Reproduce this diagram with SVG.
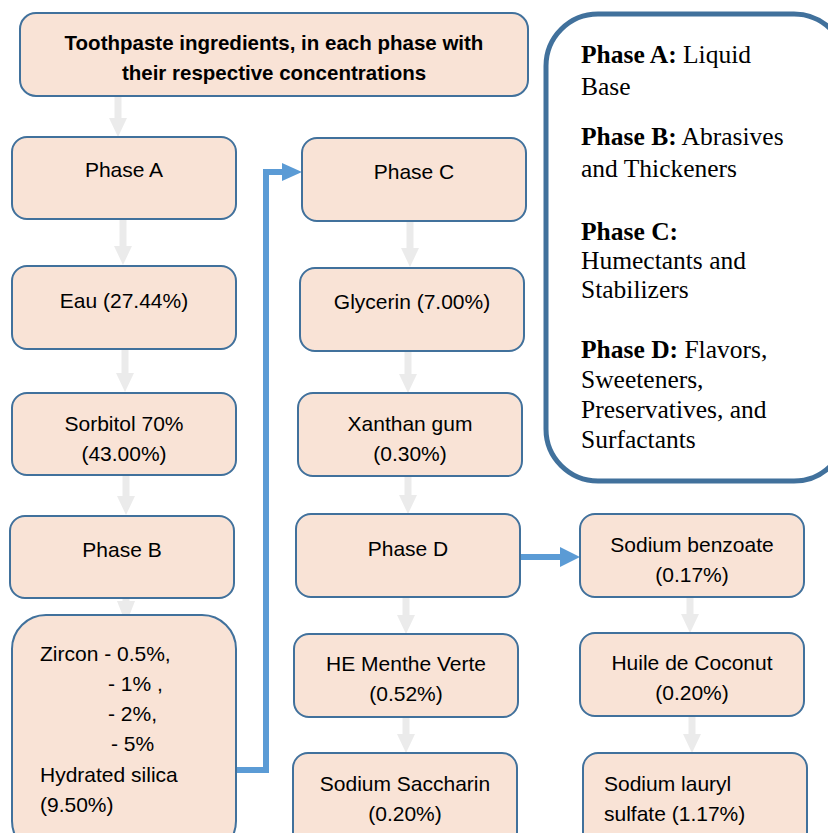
<svg xmlns="http://www.w3.org/2000/svg" width="828" height="833" viewBox="0 0 828 833">
<style>
.box{fill:#f9e3d6;stroke:#41719c;stroke-width:2}
.t{font-family:"Liberation Sans",Arial,sans-serif;font-size:21px;fill:#000}
.c{text-anchor:middle}
.title{font-family:"Liberation Sans",Arial,sans-serif;font-size:20.5px;font-weight:bold;text-anchor:middle}
.lg{font-family:"Liberation Serif","Times New Roman",serif;font-size:25.5px;fill:#000}
.g{stroke:#ebebeb;stroke-width:7;fill:none}
.gh{fill:#ebebeb}
.b{stroke:#5b9bd5;stroke-width:6;fill:none}
.bh{fill:#5b9bd5}
</style>
<rect width="828" height="833" fill="#fff"/>
<g id="connectors">
<path class="g" d="M118 96V120"/><path class="gh" d="M109 118H127L118 137Z"/>
<path class="g" d="M123 220V248"/><path class="gh" d="M114 246H132L123 265Z"/>
<path class="g" d="M125 349V375"/><path class="gh" d="M116 373H134L125 392Z"/>
<path class="g" d="M126 475V498"/><path class="gh" d="M117 496H135L126 515Z"/>
<path class="g" d="M126 584V603"/><path class="gh" d="M117 601H135L126 624Z"/>
<path class="g" d="M410 221V250"/><path class="gh" d="M401 248H419L410 267Z"/>
<path class="g" d="M408 351V376"/><path class="gh" d="M399 374H417L408 393Z"/>
<path class="g" d="M408 476V497"/><path class="gh" d="M399 495H417L408 514Z"/>
<path class="g" d="M406 597V617"/><path class="gh" d="M397 615H415L406 634Z"/>
<path class="g" d="M406 717V736"/><path class="gh" d="M397 734H415L406 753Z"/>
<path class="g" d="M690 597V616"/><path class="gh" d="M681 614H699L690 633Z"/>
<path class="g" d="M692 716V736"/><path class="gh" d="M683 734H701L692 753Z"/>
<path class="b" d="M236 770H266V172H284"/><path class="bh" d="M282 163L302 172L282 181Z"/>
<path class="b" d="M520 557H562"/><path class="bh" d="M560 547L580 557L560 567Z"/>
</g>
<g id="title"><rect class="box" x="20" y="13" width="508" height="83" rx="16"/>
<text class="title" x="274" y="50">Toothpaste ingredients, in each phase with</text>
<text class="title" x="274" y="80">their respective concentrations</text></g>
<g id="phaseA"><rect class="box" x="12" y="137" width="224" height="82" rx="15"/><text class="t c" x="124" y="177">Phase A</text></g>
<g id="eau"><rect class="box" x="12" y="266" width="224" height="83" rx="15"/><text class="t c" x="124" y="308">Eau (27.44%)</text></g>
<g id="sorbitol"><rect class="box" x="12" y="393" width="224" height="82" rx="15"/><text class="t c" x="124" y="431">Sorbitol 70%</text><text class="t c" x="124" y="461">(43.00%)</text></g>
<g id="phaseB"><rect class="box" x="10" y="516" width="224" height="82" rx="15"/><text class="t c" x="122" y="557">Phase B</text></g>
<g id="zircon"><rect class="box" x="12" y="615" width="224" height="240" rx="34"/>
<text class="t" x="40" y="661">Zircon - 0.5%,</text>
<text class="t" x="108" y="691">- 1% ,</text>
<text class="t" x="108" y="721">- 2%,</text>
<text class="t" x="111" y="751">- 5%</text>
<text class="t" x="40" y="782">Hydrated silica</text>
<text class="t" x="40" y="812">(9.50%)</text></g>
<g id="phaseC"><rect class="box" x="302" y="138" width="224" height="83" rx="15"/><text class="t c" x="414" y="179">Phase C</text></g>
<g id="glycerin"><rect class="box" x="300" y="268" width="224" height="83" rx="15"/><text class="t c" x="412" y="309">Glycerin (7.00%)</text></g>
<g id="xanthan"><rect class="box" x="298" y="393" width="224" height="83" rx="15"/><text class="t c" x="410" y="431">Xanthan gum</text><text class="t c" x="410" y="461">(0.30%)</text></g>
<g id="phaseD"><rect class="box" x="296" y="514" width="224" height="83" rx="15"/><text class="t c" x="408" y="556">Phase D</text></g>
<g id="menthe"><rect class="box" x="294" y="634" width="224" height="83" rx="15"/><text class="t c" x="406" y="671">HE Menthe Verte</text><text class="t c" x="406" y="701">(0.52%)</text></g>
<g id="saccharin"><rect class="box" x="293" y="753" width="224" height="100" rx="15"/><text class="t c" x="405" y="791">Sodium Saccharin</text><text class="t c" x="405" y="821">(0.20%)</text></g>
<g id="benzoate"><rect class="box" x="580" y="514" width="224" height="83" rx="15"/><text class="t c" x="692" y="552">Sodium benzoate</text><text class="t c" x="692" y="582">(0.17%)</text></g>
<g id="coconut"><rect class="box" x="580" y="633" width="224" height="83" rx="15"/><text class="t c" x="692" y="670">Huile de Coconut</text><text class="t c" x="692" y="700">(0.20%)</text></g>
<g id="lauryl"><rect class="box" x="583" y="753" width="224" height="100" rx="15"/><text class="t" x="604" y="791">Sodium lauryl</text><text class="t" x="604" y="821">sulfate (1.17%)</text></g>
<g id="legend"><rect x="546" y="14" width="300" height="467" rx="52" fill="#fff" stroke="#41719c" stroke-width="5"/>
<text class="lg" x="581" y="63"><tspan font-weight="bold">Phase A:</tspan> Liquid</text>
<text class="lg" x="581" y="95">Base</text>
<text class="lg" x="581" y="145"><tspan font-weight="bold">Phase B:</tspan> Abrasives</text>
<text class="lg" x="581" y="177">and Thickeners</text>
<text class="lg" x="581" y="240" font-weight="bold">Phase C:</text>
<text class="lg" x="581" y="269">Humectants and</text>
<text class="lg" x="581" y="298">Stabilizers</text>
<text class="lg" x="581" y="358"><tspan font-weight="bold">Phase D:</tspan> Flavors,</text>
<text class="lg" x="581" y="388">Sweeteners,</text>
<text class="lg" x="581" y="418">Preservatives, and</text>
<text class="lg" x="581" y="448">Surfactants</text></g>
</svg>
